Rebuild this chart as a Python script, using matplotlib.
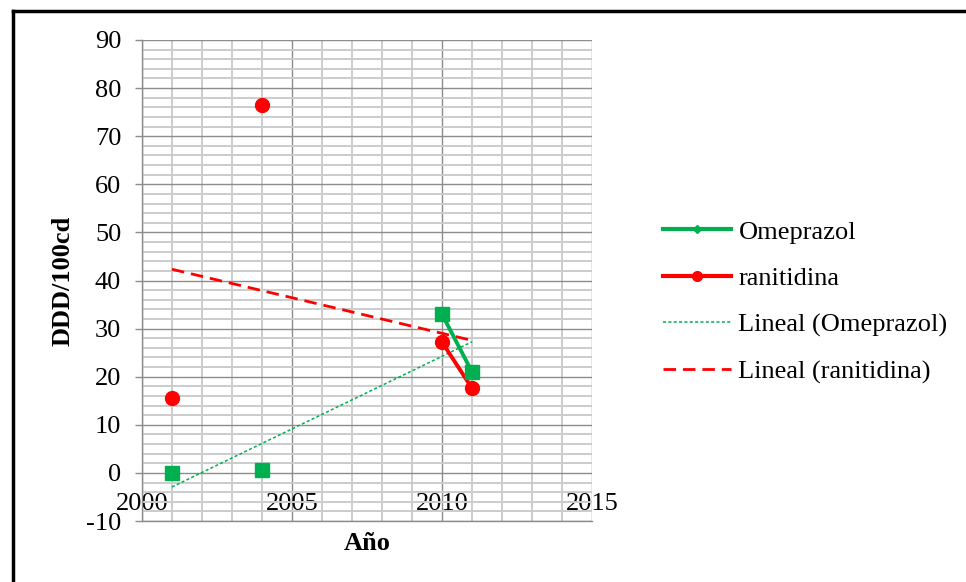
import numpy as np
import pandas as pd
import matplotlib
matplotlib.use("Agg")
import matplotlib.pyplot as plt
from matplotlib.lines import Line2D
from matplotlib.ticker import MultipleLocator

plt.rcParams['font.family'] = ['Liberation Serif', 'DejaVu Serif']
plt.rcParams['axes.unicode_minus'] = False

# data
years = [2001, 2004, 2010, 2011]
omeprazol = [0.0, 0.7, 33.0, 21.0]
ranitidina = [15.5, 76.5, 27.2, 17.6]

green = '#00B050'
red = '#FF0000'

# fill missing years with NaN so only consecutive years get joined
full_years = np.arange(min(years), max(years) + 1)
ome_s = pd.Series(omeprazol, index=years).reindex(full_years)
ran_s = pd.Series(ranitidina, index=years).reindex(full_years)

fig = plt.figure(figsize=(9.66, 5.82), dpi=100)
ax = fig.add_axes([142 / 966, 1 - 521 / 582, 450 / 966, 481 / 582])

ax.set_xlim(2000, 2015)
ax.set_ylim(-10, 90)
ax.xaxis.set_major_locator(MultipleLocator(5))
ax.xaxis.set_minor_locator(MultipleLocator(1))
ax.yaxis.set_major_locator(MultipleLocator(10))
ax.yaxis.set_minor_locator(MultipleLocator(2))

ax.grid(which='minor', color='#cccccc', linewidth=1.4, zorder=0)
ax.grid(which='major', color='#8c8c8c', linewidth=1.0, zorder=0)
ax.set_axisbelow(True)

for side in ['top', 'right']:
    ax.spines[side].set_visible(False)
for side in ['left', 'bottom']:
    ax.spines[side].set_color('#8c8c8c')
    ax.spines[side].set_linewidth(1.0)

ax.tick_params(axis='y', which='major', length=5, color='#8c8c8c', width=1,
               labelsize=19, pad=10)
ax.tick_params(axis='y', which='minor', length=0)
# x labels sit inside the plot, just above the bottom edge (as Excel drew them)
ax.tick_params(axis='x', which='both', length=0, labelsize=19, pad=-20)

# series
ax.plot(full_years, ome_s.values, color=green, lw=2.8, marker='s', ms=9.5, zorder=4)
ax.plot(full_years, ran_s.values, color=red, lw=2.8, marker='o', ms=10, zorder=3)

# linear trend lines
fit_x = np.array([min(years), max(years)])
k, b = np.polyfit(years, omeprazol, 1)
ax.plot(fit_x, k * fit_x + b, color=green, lw=1.1, linestyle=(0, (2, 1.5)), zorder=2)
k, b = np.polyfit(years, ranitidina, 1)
ax.plot(fit_x, k * fit_x + b, color=red, lw=2.0, linestyle=(0, (4.5, 2.5)), zorder=2)

ax.set_xlabel('Año', fontsize=19, fontweight='bold')
ax.xaxis.set_label_coords(0.5, -0.022)
ax.set_ylabel('DDD/100cd', fontsize=19, fontweight='bold', labelpad=8)

handles = [
    Line2D([], [], color=green, lw=3, marker='D', ms=4),
    Line2D([], [], color=red, lw=3, marker='o', ms=7),
    Line2D([], [], color=green, lw=1.1, linestyle=(0, (2, 1.5))),
    Line2D([], [], color=red, lw=2.0, linestyle=(0, (4.5, 2.5))),
]
labels = ['Omeprazol', 'ranitidina', 'Lineal (Omeprazol)', 'Lineal (ranitidina)']
fig.legend(handles, labels, loc='center left', bbox_to_anchor=(639 / 966, 1 - 302 / 582),
           frameon=False, fontsize=19, handlelength=2.6, handletextpad=0.27,
           labelspacing=0.87)

# outer frame (left and top edges visible)
fig.add_artist(Line2D([12.5 / 966, 12.5 / 966], [0, 1 - 10.5 / 582], color='black', lw=2.5,
                      transform=fig.transFigure))
fig.add_artist(Line2D([12.5 / 966, 1], [1 - 10.5 / 582, 1 - 10.5 / 582], color='black', lw=2.5,
                      transform=fig.transFigure))

fig.savefig('out.png', dpi=100)
